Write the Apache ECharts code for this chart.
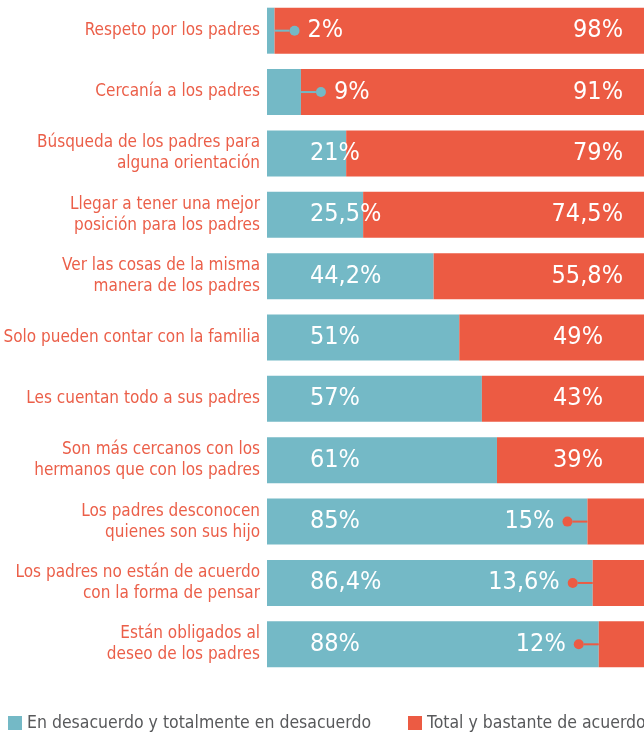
<!DOCTYPE html>
<html>
<head>
<meta charset="utf-8">
<title>Relación con los padres</title>
<script src="https://cdn.jsdelivr.net/npm/echarts@6/dist/echarts.min.js"></script>
<style>
  html, body { margin: 0; padding: 0; background: #fff; }
  #chart { width: 644px; height: 734px; }
</style>
</head>
<body>
<div id="chart"></div>
<script>
// categorías (de arriba hacia abajo)
const categories = [
  'Respeto por los padres',
  'Cercanía a los padres',
  'Búsqueda de los padres para\nalguna orientación',
  'Llegar a tener una mejor\nposición para los padres',
  'Ver las cosas de la misma\nmanera de los padres',
  'Solo pueden contar con la familia',
  'Les cuentan todo a sus padres',
  'Son más cercanos con los\nhermanos que con los padres',
  'Los padres desconocen\nquienes son sus hijo',
  'Los padres no están de acuerdo\ncon la forma de pensar',
  'Están obligados al\ndeseo de los padres'
]
const desacuerdo = [2, 9, 21, 25.5, 44.2, 51, 57, 61, 85, 86.4, 88]
const acuerdo = [98, 91, 79, 74.5, 55.8, 49, 43, 39, 15, 13.6, 12]
const seriesNames = ['En desacuerdo y totalmente en desacuerdo', 'Total y bastante de acuerdo']

const BLUE = '#74b9c6'
const RED = '#ec5b43'
const FONT = '"DejaVu Sans Condensed", "Liberation Sans Narrow", Roboto, sans-serif'

const pct = v => String(v).replace('.', ',') + '%'

// etiquetas de la serie azul; los valores pequeños van fuera con una línea guía
const blueData = desacuerdo.map(v => {
  if (v < 10) {
    return {
      value: v,
      label: {
        position: 'right',
        distance: 0,
        formatter: p => '{l|}{d|}{t|' + pct(p.value) + '}'
      }
    }
  }
  return v
})

const redData = acuerdo.map(v => {
  if (v < 20) {
    return {
      value: v,
      label: {
        position: 'left',
        distance: 0,
        formatter: p => '{t|' + pct(p.value) + '}{d|}{l|}'
      }
    }
  }
  return { value: v, label: { distance: v < 50 ? 41 : 21 } }
})

const richFor = color => ({
  l: { width: 15, height: 2, backgroundColor: color },
  d: { width: 10, height: 10, borderRadius: 5, backgroundColor: color },
  t: { color: '#fff', fontSize: 25, fontFamily: FONT, padding: [0, 8, 0, 8] }
})

const legendBase = {
  icon: 'rect', itemWidth: 14, itemHeight: 14, itemGap: 6, padding: 0, top: 714,
  textStyle: { color: '#58595b', fontSize: 17.5, fontFamily: FONT, padding: [0, 0, 0, 0] }
}

const chart = echarts.init(document.getElementById('chart'))
chart.setOption({
  animation: false,
  color: [BLUE, RED],
  grid: { left: 267, right: 0, top: 0, height: 675, containLabel: false, outerBoundsMode: 'none' },
  legend: [
    Object.assign({}, legendBase, { data: [seriesNames[0]], left: 8 }),
    Object.assign({}, legendBase, { data: [seriesNames[1]], left: 408 })
  ],
  xAxis: {
    type: 'value', min: 0, max: 100,
    show: false
  },
  yAxis: {
    type: 'category',
    inverse: true,
    data: categories,
    axisLine: { show: false },
    axisTick: { show: false },
    axisLabel: {
      margin: 7,
      color: '#eb5f49',
      fontSize: 17,
      lineHeight: 21,
      fontFamily: FONT
    }
  },
  series: [
    {
      name: seriesNames[0],
      type: 'bar',
      stack: 'total',
      barWidth: 46,
      data: blueData,
      label: {
        show: true,
        position: 'insideLeft',
        distance: 43,
        color: '#fff',
        fontSize: 25,
        fontFamily: FONT,
        formatter: p => pct(p.value),
        rich: richFor(BLUE)
      }
    },
    {
      name: seriesNames[1],
      type: 'bar',
      stack: 'total',
      barWidth: 46,
      data: redData,
      label: {
        show: true,
        position: 'insideRight',
        distance: 21,
        color: '#fff',
        fontSize: 25,
        fontFamily: FONT,
        formatter: p => pct(p.value),
        rich: richFor(RED)
      }
    }
  ]
})
</script>
</body>
</html>
